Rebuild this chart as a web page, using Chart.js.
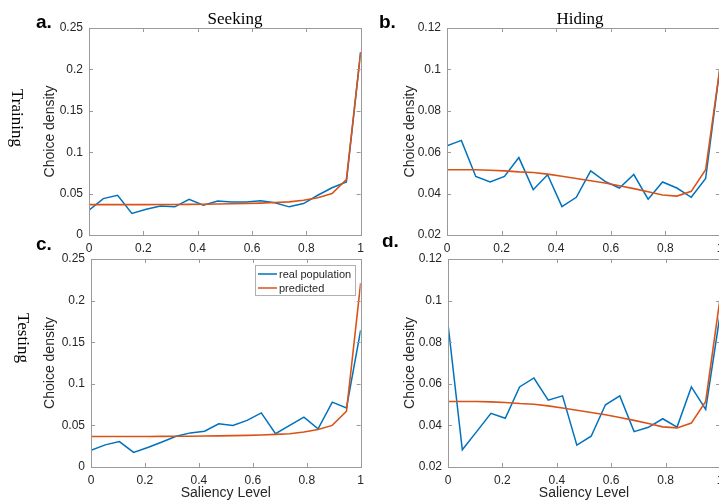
<!DOCTYPE html>
<html>
<head>
<meta charset="utf-8">
<script src="https://cdn.jsdelivr.net/npm/chart.js@4.4.1/dist/chart.umd.min.js"></script>
<style>
  html, body { margin: 0; padding: 0; background: #fff; overflow: hidden; }
  body { width: 719px; height: 502px; position: relative; }
  canvas { position: absolute; }
</style>
</head>
<body>
<canvas id="panel-a" width="370" height="262" style="left:0;top:0"></canvas>
<canvas id="panel-b" width="360" height="262" style="left:370px;top:0"></canvas>
<canvas id="panel-c" width="370" height="266" style="left:0;top:236px"></canvas>
<canvas id="panel-d" width="360" height="266" style="left:370px;top:236px"></canvas>
<script>
// saliency levels shared by every panel
const SALIENCY_LEVELS = [0, 0.0526, 0.1053, 0.1579, 0.2105, 0.2632, 0.3158, 0.3684, 0.4211, 0.4737,
    0.5263, 0.5789, 0.6316, 0.6842, 0.7368, 0.7895, 0.8421, 0.8947, 0.9474, 1];

// seeking: observed choice density (training / testing) and model prediction
const seekTrainReal = [0.030, 0.044, 0.048, 0.026, 0.031, 0.035, 0.034, 0.043, 0.036, 0.041,
    0.040, 0.040, 0.0415, 0.039, 0.034, 0.038, 0.048, 0.057, 0.064, 0.221];
const seekTestReal = [0.020, 0.0266, 0.0306, 0.0175, 0.0235, 0.030, 0.037, 0.041, 0.043, 0.052,
    0.050, 0.056, 0.065, 0.040, 0.050, 0.060, 0.046, 0.078, 0.071, 0.1645];
const seekPredicted = [0.0367, 0.0367, 0.0367, 0.0367, 0.0367, 0.0368, 0.0369, 0.0370, 0.0372, 0.0374,
    0.0377, 0.0380, 0.0385, 0.0392, 0.0400, 0.0420, 0.0450, 0.0500, 0.0670, 0.221];

// hiding: same layout
const hideTrainReal = [0.0631, 0.0657, 0.0483, 0.0456, 0.0483, 0.0574, 0.0419, 0.0491, 0.0337, 0.0382,
    0.0510, 0.0459, 0.0427, 0.0492, 0.0373, 0.0456, 0.0427, 0.0382, 0.0473, 0.101];
const hideTestReal = [0.0887, 0.0283, 0.0370, 0.0458, 0.0434, 0.0585, 0.0628, 0.0521, 0.0542, 0.0305,
    0.0348, 0.0499, 0.0542, 0.0370, 0.0391, 0.0432, 0.0392, 0.0585, 0.0477, 0.093];
const hidePredicted = [0.0515, 0.0515, 0.0515, 0.0513, 0.0510, 0.0505, 0.0502, 0.0494, 0.0484, 0.0473,
    0.0462, 0.0451, 0.0438, 0.0424, 0.0409, 0.0393, 0.0388, 0.0411, 0.0515, 0.101];

const seriesLabels = ['real population', 'predicted'];
const seriesColors = ['#0072BD', '#D95319'];

const SANS = '"Liberation Sans", Arial, Helvetica, sans-serif';
const SERIF = '"Liberation Serif", "Times New Roman", serif';
const TEXT = '#262626';
const AXIS = '#9a9a9a';

const fmt = v => String(Math.round(v * 100) / 100);
const toPoints = vals => SALIENCY_LEVELS.map((x, i) => ({ x: x, y: vals[i] }));

// frame, inward ticks, panel letters, titles and the legend
const panelDecor = {
    id: 'panelDecor',
    afterDraw(chart, args, o) {
        const ctx = chart.ctx;
        const { left, top, right, bottom } = chart.chartArea;
        const xs = chart.scales.x, ys = chart.scales.y;
        ctx.save();

        ctx.strokeStyle = AXIS;
        ctx.lineWidth = 1;
        ctx.strokeRect(Math.round(left) + 0.5, Math.round(top) + 0.5,
            Math.round(right - left), Math.round(bottom - top));
        ctx.beginPath();
        xs.ticks.forEach(t => {
            const px = Math.round(xs.getPixelForValue(t.value)) + 0.5;
            ctx.moveTo(px, bottom); ctx.lineTo(px, bottom - 4);
            ctx.moveTo(px, top); ctx.lineTo(px, top + 4);
        });
        ys.ticks.forEach(t => {
            const py = Math.round(ys.getPixelForValue(t.value)) + 0.5;
            ctx.moveTo(left, py); ctx.lineTo(left + 4, py);
            ctx.moveTo(right, py); ctx.lineTo(right - 4, py);
        });
        ctx.stroke();

        ctx.fillStyle = '#000';
        ctx.textBaseline = 'alphabetic';
        if (o.letter) {
            ctx.font = 'bold 19px ' + SANS;
            ctx.textAlign = 'left';
            ctx.fillText(o.letter, o.letterX, o.letterY);
        }
        if (o.title) {
            ctx.font = '17px ' + SERIF;
            ctx.textAlign = 'center';
            ctx.fillText(o.title, o.titleX, 24);
        }
        if (o.rowLabel) {
            ctx.save();
            ctx.translate(o.rowX, o.rowY);
            ctx.rotate(Math.PI / 2);
            ctx.font = '17px ' + SERIF;
            ctx.textAlign = 'center';
            ctx.textBaseline = 'middle';
            ctx.fillText(o.rowLabel, 0, 0);
            ctx.restore();
        }

        if (o.legend) {
            const w = 100, h = 30;
            const bx = Math.round(right) - 6 - w, by = Math.round(top) + 6;
            ctx.fillStyle = '#fff';
            ctx.fillRect(bx, by, w, h);
            ctx.strokeStyle = '#b0b0b0';
            ctx.strokeRect(bx + 0.5, by + 0.5, w, h);
            ctx.font = '11px ' + SANS;
            ctx.textAlign = 'left';
            ctx.textBaseline = 'middle';
            chart.data.datasets.forEach((ds, i) => {
                const cy = by + 9 + i * 14;
                ctx.strokeStyle = ds.borderColor;
                ctx.lineWidth = 1.5;
                ctx.beginPath();
                ctx.moveTo(bx + 3, cy); ctx.lineTo(bx + 22, cy);
                ctx.stroke();
                ctx.fillStyle = TEXT;
                ctx.fillText(ds.label, bx + 24, cy + 0.5);
            });
        }
        ctx.restore();
    }
};

function makePanel(id, real, predicted, cfg) {
    const ctx = document.getElementById(id).getContext('2d');
    return new Chart(ctx, {
        type: 'line',
        data: {
            datasets: [
                { label: seriesLabels[0], data: toPoints(real), borderColor: seriesColors[0],
                  borderWidth: 1.5, pointRadius: 0, tension: 0, order: 1 },
                { label: seriesLabels[1], data: toPoints(predicted), borderColor: seriesColors[1],
                  borderWidth: 1.6, pointRadius: 0, tension: 0, order: 0 }
            ]
        },
        options: {
            responsive: false,
            animation: false,
            devicePixelRatio: 1,
            layout: { padding: { top: cfg.top, right: cfg.right, left: 0, bottom: 0 } },
            plugins: {
                legend: { display: false },
                tooltip: { enabled: false },
                panelDecor: cfg.decor
            },
            scales: {
                x: {
                    type: 'linear', min: 0, max: 1,
                    grid: { display: false, drawTicks: false },
                    border: { display: false },
                    ticks: { stepSize: 0.2, autoSkip: false, maxRotation: 0, padding: 6,
                             color: TEXT, font: { family: SANS, size: 12 }, callback: fmt },
                    title: { display: !!cfg.xTitle, text: 'Saliency Level', color: TEXT,
                             font: { family: SANS, size: 14 }, padding: { top: 0, bottom: 0 } },
                    afterFit: s => { s.height = cfg.bottom; }
                },
                y: {
                    type: 'linear', min: cfg.yMin, max: cfg.yMax,
                    grid: { display: false, drawTicks: false },
                    border: { display: false },
                    ticks: { stepSize: cfg.yStep, padding: 6, color: TEXT,
                             font: { family: SANS, size: 12 }, callback: fmt },
                    title: { display: true, text: 'Choice density', color: TEXT,
                             font: { family: SANS, size: 14 }, padding: { top: cfg.yTitlePad, bottom: 0 } },
                    afterFit: s => { s.width = cfg.left; }
                }
            }
        },
        plugins: [panelDecor]
    });
}

makePanel('panel-a', seekTrainReal, seekPredicted, {
    left: 89, top: 28, right: 8, bottom: 27, yMin: 0, yMax: 0.25, yStep: 0.05, yTitlePad: 41.6,
    decor: { letter: 'a.', letterX: 36, letterY: 28, title: 'Seeking', titleX: 235,
             rowLabel: 'Training', rowX: 16, rowY: 118 }
});
makePanel('panel-b', hideTrainReal, hidePredicted, {
    left: 77, top: 28, right: 10, bottom: 27, yMin: 0.02, yMax: 0.12, yStep: 0.02, yTitlePad: 31.6,
    decor: { letter: 'b.', letterX: 9, letterY: 28, title: 'Hiding', titleX: 210 }
});
makePanel('panel-c', seekTestReal, seekPredicted, {
    left: 91, top: 23, right: 7, bottom: 35, yMin: 0, yMax: 0.25, yStep: 0.05, yTitlePad: 41.6, xTitle: true,
    decor: { letter: 'c.', letterX: 36, letterY: 14, rowLabel: 'Testing', rowX: 22, rowY: 102, legend: true }
});
makePanel('panel-d', hideTestReal, hidePredicted, {
    left: 78, top: 23, right: 10, bottom: 35, yMin: 0.02, yMax: 0.12, yStep: 0.02, yTitlePad: 31.6, xTitle: true,
    decor: { letter: 'd.', letterX: 12, letterY: 11 }
});
</script>
</body>
</html>
